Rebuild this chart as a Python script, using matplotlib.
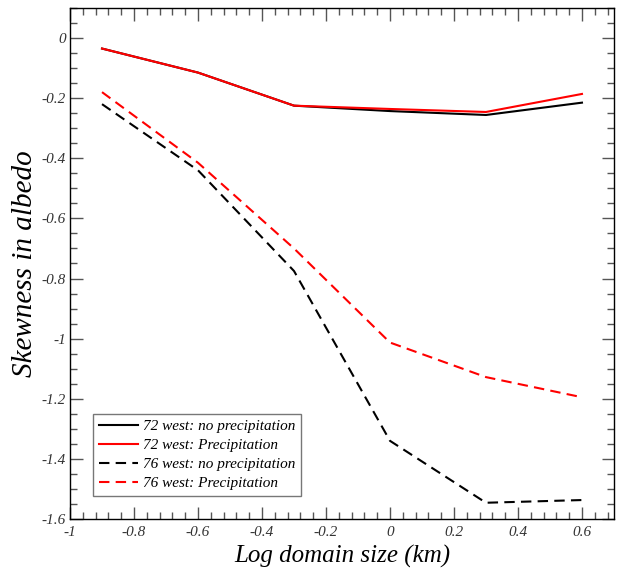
import matplotlib
matplotlib.use("Agg")
import matplotlib.pyplot as plt
from matplotlib.ticker import MultipleLocator, FuncFormatter

# log domain size (km)
log_size = [-0.9, -0.6, -0.3, 0.0, 0.3, 0.6]

# skewness in albedo for each case
w72_noprecip = [-0.035, -0.115, -0.225, -0.243, -0.256, -0.215]
w72_precip = [-0.035, -0.115, -0.225, -0.236, -0.246, -0.186]
w76_noprecip = [-0.22, -0.44, -0.775, -1.34, -1.546, -1.537]
w76_precip = [-0.18, -0.415, -0.70, -1.013, -1.128, -1.195]

labels = ["72 west: no precipitation", "72 west: Precipitation",
          "76 west: no precipitation", "76 west: Precipitation"]

serif = ["Liberation Serif", "DejaVu Serif"]

fig = plt.figure(figsize=(6.23, 5.69), dpi=100)
ax = fig.add_axes([0.1124, 0.0879, 0.8731, 0.8981])

ax.plot(log_size, w72_noprecip, color="black", lw=1.5, label=labels[0])
ax.plot(log_size, w72_precip, color="red", lw=1.5, label=labels[1])
ax.plot(log_size, w76_noprecip, color="black", lw=1.5, ls=(0, (5, 3)), label=labels[2])
ax.plot(log_size, w76_precip, color="red", lw=1.5, ls=(0, (5, 3)), label=labels[3])

ax.set_xlim(-1, 0.7)
ax.set_ylim(-1.6, 0.1)

ax.xaxis.set_major_locator(MultipleLocator(0.2))
ax.xaxis.set_minor_locator(MultipleLocator(0.04))
ax.yaxis.set_major_locator(MultipleLocator(0.2))
ax.yaxis.set_minor_locator(MultipleLocator(0.05))


def fmt(v, pos):
    s = f"{v:.1f}".rstrip("0").rstrip(".")
    if s in ("-0", "0"):
        return "0"
    return s


ax.xaxis.set_major_formatter(FuncFormatter(fmt))
ax.yaxis.set_major_formatter(FuncFormatter(fmt))

ax.tick_params(which="both", direction="in", top=True, right=True, colors="#555555")
ax.tick_params(which="major", length=9, width=1)
ax.tick_params(which="minor", length=5, width=1)
ax.tick_params(labelcolor="#333333")
ax.tick_params(axis="x", pad=5)
ax.tick_params(axis="y", pad=3)
for lab in ax.get_xticklabels() + ax.get_yticklabels():
    lab.set_family(serif)
    lab.set_style("italic")
    lab.set_fontsize(11)

for sp in ax.spines.values():
    sp.set_color("black")
    sp.set_linewidth(1)

ax.set_xlabel("Log domain size (km)", family=serif, style="italic", fontsize=18, labelpad=4)
ax.set_ylabel("Skewness in albedo", family=serif, style="italic", fontsize=21)
ax.yaxis.set_label_coords(-0.058, 0.5)

leg = ax.legend(loc="lower left", bbox_to_anchor=(0.042, 0.045), frameon=True, fancybox=False,
                prop={"family": serif, "style": "italic", "size": 11},
                handlelength=2.6, handletextpad=0.3, labelspacing=0.35, borderpad=0.38,
                borderaxespad=0)
leg.get_frame().set_edgecolor("#555555")
leg.get_frame().set_linewidth(1)

fig.savefig("out.png", dpi=100)
